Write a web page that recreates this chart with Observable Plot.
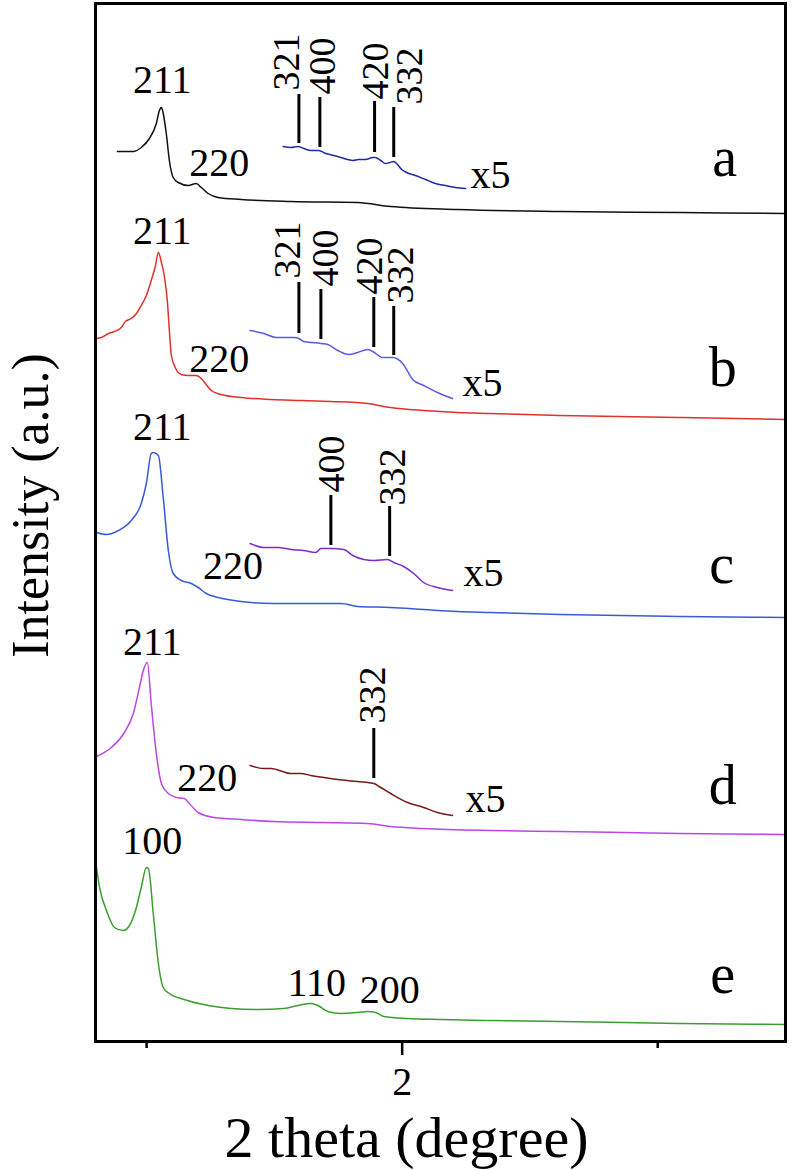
<!DOCTYPE html>
<html><head><meta charset="utf-8">
<script src="https://cdn.jsdelivr.net/npm/d3@7"></script>
<script src="https://cdn.jsdelivr.net/npm/@observablehq/plot@0.6"></script>
<style>body{margin:0;background:#fff}#chart svg{display:block}</style>
</head><body><div id="chart"></div>
<script>
// ---- data: [2theta (deg), intensity (a.u., stacked offsets)] ----
const curveA = [[0.886,890],[0.948,890],[0.979,894],[1.011,903],[1.038,918],[1.050,931],[1.058,934],[1.065,928],[1.077,908],[1.089,881],[1.104,864],[1.124,859],[1.163,856],[1.194,858],[1.214,854],[1.241,848],[1.280,844],[1.370,842],[1.565,840],[1.826,839],[1.955,835],[2.216,832],[2.618,830],[3.086,829],[3.5,828]];
const insetA = [[1.534,895],[1.565,894],[1.592,895],[1.615,893],[1.643,891],[1.674,891],[1.701,888],[1.733,886],[1.760,884],[1.787,882],[1.807,881],[1.830,882],[1.857,882],[1.885,884],[1.896,884],[1.916,881],[1.935,878],[1.951,879],[1.967,880],[1.982,877],[1.998,872],[2.017,869],[2.052,866],[2.091,862],[2.130,858],[2.169,856],[2.209,854],[2.248,853]];
const curveB = [[0.804,703],[0.823,704],[0.851,708],[0.874,710],[0.901,714],[0.917,720],[0.940,723],[0.960,728],[0.979,736],[0.999,746],[1.018,761],[1.034,775],[1.046,789],[1.058,779],[1.069,766],[1.081,741],[1.089,711],[1.097,686],[1.112,674],[1.136,667],[1.163,666],[1.194,666],[1.214,663],[1.233,657],[1.253,651],[1.292,647],[1.370,644],[1.487,642],[1.604,641],[1.721,640],[1.865,638],[1.955,634],[2.084,631],[2.216,629],[2.345,628],[2.618,626],[3.086,624],[3.5,622]];
const insetB = [[1.405,711],[1.459,708],[1.506,704],[1.576,704],[1.596,703],[1.615,700],[1.682,698],[1.709,697],[1.748,691],[1.791,687],[1.826,689],[1.865,692],[1.885,690],[1.924,684],[1.963,684],[2.002,678],[2.041,662],[2.084,656],[2.138,649],[2.197,643]];
const curveC = [[0.804,509],[0.843,507],[0.890,511],[0.940,521],[0.979,538],[0.999,558],[1.018,588],[1.026,589],[1.046,586],[1.065,544],[1.085,491],[1.104,468],[1.136,461],[1.175,458],[1.202,454],[1.233,448],[1.280,444],[1.370,440],[1.498,438],[1.694,438],[1.760,438],[1.826,435],[1.955,434],[2.084,432],[2.216,430],[2.345,429],[2.618,427],[3.086,425],[3.5,424]];
const insetC = [[1.405,498],[1.459,494],[1.514,494],[1.565,492],[1.615,491],[1.662,489],[1.682,493],[1.721,493],[1.772,492],[1.807,486],[1.850,482],[1.889,481],[1.943,482],[1.967,479],[2.006,475],[2.045,468],[2.084,459],[2.138,454],[2.197,451]];
const curveD = [[0.804,285],[0.862,294],[0.913,309],[0.948,328],[0.972,354],[0.987,371],[1.003,379],[1.018,338],[1.038,288],[1.058,258],[1.085,248],[1.116,244],[1.147,243],[1.167,238],[1.202,229],[1.264,224],[1.370,222],[1.498,220],[1.694,219],[1.865,218],[1.955,215],[2.084,213],[2.345,211],[2.618,210],[3.086,208],[3.5,207]];
const insetD = [[1.405,276],[1.459,273],[1.487,273],[1.565,268],[1.604,268],[1.643,266],[1.694,264],[1.748,262],[1.826,260],[1.889,258],[1.916,254],[1.955,248],[2.021,239],[2.084,234],[2.138,229],[2.197,226]];
const curveE = [[0.804,174],[0.816,154],[0.843,131],[0.874,114],[0.909,111],[0.933,116],[0.960,134],[0.979,154],[0.999,174],[1.007,173],[1.026,128],[1.046,78],[1.065,54],[1.089,48],[1.147,42],[1.241,36],[1.331,33],[1.436,32],[1.537,33],[1.592,36],[1.643,38],[1.670,36],[1.709,30],[1.760,28],[1.826,29],[1.865,30],[1.896,29],[1.928,25],[2.021,23],[2.150,22],[2.345,21],[2.618,20],[3.086,18],[3.5,17]];

// reflection markers: [hkl, 2theta, low, high]
const markersA = [["321",1.596,898,947],["400",1.678,894,944],["420",1.892,889,940],["332",1.967,884,934]];
const markersB = [["321",1.596,708,759],["400",1.682,702,752],["420",1.889,694,744],["332",1.967,686,735]];
const markersC = [["400",1.721,496,546],["332",1.951,485,535]];
const markersD = [["332",1.889,263,313]];
// rotated hkl labels: [hkl, 2theta, intensity]
const hklLabels = [["321",1.549,951],["400",1.690,947],["420",1.896,942],["332",2.029,937],
  ["321",1.553,763],["400",1.701,755],["420",1.873,747],["332",1.994,738],
  ["400",1.725,549],["332",1.963,536],
  ["332",1.885,318]];
// peak labels: [text, 2theta, intensity]
const peakLabels = [["211",1.061,949],["220",1.284,866],
  ["211",1.061,798],["220",1.284,670],
  ["211",1.061,602],["220",1.338,463],
  ["211",1.022,387],["220",1.237,251],
  ["100",1.022,188],["110",1.666,46],["200",1.951,39]];
const scaleLabels = [["x5",2.267,854],["x5",2.236,646],["x5",2.240,456],["x5",2.248,230]];
const sampleLabels = [["a",3.262,866],["b",3.254,656],["c",3.250,459],["d",3.254,238],["e",3.254,49]];
const xTicks = [1, 2, 3];
const xTickLabels = ["", "2", ""];

// ---- styles ----
const colors = {a:"#111111", ai:"#1f2aa0", b:"#e3302b", bi:"#5a5ae6", c:"#3a5ad9", ci:"#7b2dc9", d:"#bb48e4", di:"#7a1818", e:"#3c9e30"};
const toRows = arr => arr.map(([x, y]) => ({x, y}));
const lineOpt = c => ({x:"x", y:"y", stroke:c, strokeWidth:1.5, curve:"monotone-x"});
const ruleRows = arr => arr.map(([t, x, y1, y2]) => ({t, x, y1, y2}));
const lab = arr => arr.map(([t, x, y]) => ({t, x, y}));

const chart = Plot.plot({
  width: 792, height: 1170,
  marginLeft: 95, marginRight: 7, marginTop: 3, marginBottom: 129,
  style: {fontFamily: "'Liberation Serif', 'Times New Roman', serif", background: "#fff", color: "#000"},
  x: {domain: [0.8, 3.5]},
  y: {domain: [0, 1038], axis: null},
  marks: [
    Plot.line(toRows(curveA), lineOpt(colors.a)),
    Plot.line(toRows(insetA), lineOpt(colors.ai)),
    Plot.line(toRows(curveB), lineOpt(colors.b)),
    Plot.line(toRows(insetB), lineOpt(colors.bi)),
    Plot.line(toRows(curveC), lineOpt(colors.c)),
    Plot.line(toRows(insetC), lineOpt(colors.ci)),
    Plot.line(toRows(curveD), lineOpt(colors.d)),
    Plot.line(toRows(insetD), lineOpt(colors.di)),
    Plot.line(toRows(curveE), lineOpt(colors.e)),
    Plot.ruleX(ruleRows([...markersA, ...markersB, ...markersC, ...markersD]), {x:"x", y1:"y1", y2:"y2", stroke:"#000", strokeWidth:3}),
    Plot.text(lab(hklLabels), {x:"x", y:"y", text:"t", rotate:-90, textAnchor:"start", lineAnchor:"middle", fontSize:38}),
    Plot.text(lab(peakLabels), {x:"x", y:"y", text:"t", textAnchor:"middle", lineAnchor:"bottom", fontSize:40}),
    Plot.text(lab(scaleLabels), {x:"x", y:"y", text:"t", textAnchor:"start", lineAnchor:"bottom", fontSize:40}),
    Plot.text(lab(sampleLabels), {x:"x", y:"y", text:"t", textAnchor:"middle", lineAnchor:"bottom", fontSize:56}),
    Plot.frame({stroke:"#000", strokeWidth:3}),
    Plot.axisX(xTicks.filter((d, i) => xTickLabels[i] !== ""), {tickSize:14, tickPadding:11, strokeWidth:2.5, fontSize:40, label:null, tickFormat: d => xTickLabels[xTicks.indexOf(d)]}),
    Plot.axisX(xTicks.filter((d, i) => xTickLabels[i] === ""), {tickSize:7, strokeWidth:2.5, label:null, tickFormat: () => ""}),
    Plot.text(["2 theta (degree)"], {frameAnchor:"bottom", text: d => d, textAnchor:"middle", lineAnchor:"bottom", dx:-34, dy:115, fontSize:58}),
    Plot.text(["Intensity (a.u.)"], {frameAnchor:"left", text: d => d, rotate:-90, textAnchor:"middle", lineAnchor:"middle", dx:-64, dy:-17, fontSize:52})
  ]
});
document.getElementById("chart").appendChild(chart);
</script>
</body></html>
